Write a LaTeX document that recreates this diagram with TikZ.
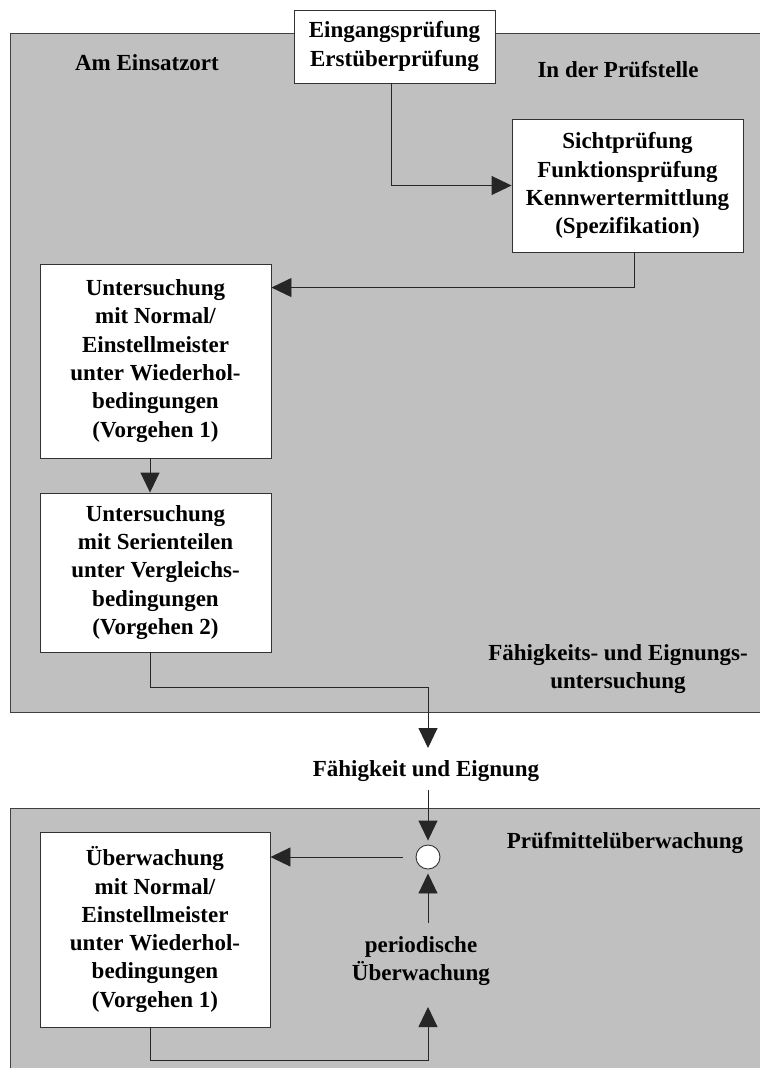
\documentclass[tikz,border=0pt]{standalone}
\usepackage{fontspec}
\setmainfont{Liberation Serif}
\usetikzlibrary{arrows.meta,calc}
\definecolor{panelgray}{HTML}{C0C0C0}
\begin{document}
\begin{tikzpicture}[x=1pt,y=-1pt,
  font=\fontsize{23}{28.3}\selectfont\bfseries,
  panel/.style={fill=panelgray,draw=black!75,line width=0.9pt},
  stepbox/.style={draw=black!80,fill=white,line width=0.9pt,align=center,inner sep=0pt},
  lbl/.style={align=center,inner sep=0pt},
  arr/.style={draw=black!85,line width=0.9pt,-{Triangle[length=20pt,width=19pt]}}]
% page area
\fill[white] (0,0) rectangle (760,1068);
\clip (0,0) rectangle (760,1068);

% grey areas
\draw[panel] (10,33) rectangle (775,712);
\draw[panel] (10,808) rectangle (775,1085);

% process boxes
\node[stepbox,minimum width=201pt,minimum height=73pt] (eing) at (394.5,46.5)
  {Eingangsprüfung\\Erstüberprüfung};
\node[stepbox,minimum width=231pt,minimum height=133pt] (sicht) at (627.5,185.5)
  {Sichtprüfung\\Funktionsprüfung\\Kennwertermittlung\\(Spezifikation)};
\node[stepbox,minimum width=231pt,minimum height=194pt] (u1) at (155.5,361)
  {Untersuchung\\mit Normal/\\Einstellmeister\\unter Wiederhol-\\bedingungen\\(Vorgehen 1)};
\node[stepbox,minimum width=231pt,minimum height=159pt] (u2) at (155.5,572.5)
  {Untersuchung\\mit Serienteilen\\unter Vergleichs-\\bedingungen\\(Vorgehen 2)};
\node[stepbox,minimum width=230pt,minimum height=195pt] (uw) at (155,929.5)
  {Überwachung\\mit Normal/\\Einstellmeister\\unter Wiederhol-\\bedingungen\\(Vorgehen 1)};
\node[circle,draw=black!80,fill=white,line width=0.9pt,minimum size=24pt,inner sep=0pt] (circ) at (428,857) {};

% labels
\node[lbl] (ort) at (147,63) {Am Einsatzort};
\node[lbl] (stelle) at (618,70) {In der Prüfstelle};
\node[lbl] (fu) at (618,669) {Fähigkeits- und Eignungs-\\untersuchung};
\node[lbl] (fe) at (426,771) {Fähigkeit und Eignung};
\node[lbl] (pmu) at (625,843) {Prüfmittelüberwachung};
\node[lbl] (per) at (421,961) {periodische\\Überwachung};

% connector points
\coordinate (j1) at (428,687);
\coordinate (feIn) at (428,748);
\coordinate (feOut) at (428,790);
\coordinate (perOut) at (428,923);
\coordinate (j2) at (428,1060);
\coordinate (perIn) at (428,1007);

% connectors
\draw[arr] ([xshift=-3.5pt]eing.south) |- (sicht.west);
\draw[arr] ([xshift=6.5pt]sicht.south) |- ($(u1.north east)+(0,24)$);
\draw[arr] ([xshift=-5.5pt]u1.south) -- ([xshift=-5.5pt]u2.north);
\draw[arr] ([xshift=-5.5pt]u2.south) |- (j1) -- (feIn);
\draw[arr,shorten >=4pt] (feOut) -- (circ.north);
\draw[arr] ([xshift=-13pt]circ.west) -- (circ.west -| uw.east);
\draw[arr,shorten >=4pt] (perOut) -- (circ.south);
\draw[arr] ([xshift=-5pt]uw.south) |- (j2) -- (perIn);
\end{tikzpicture}
\end{document}
